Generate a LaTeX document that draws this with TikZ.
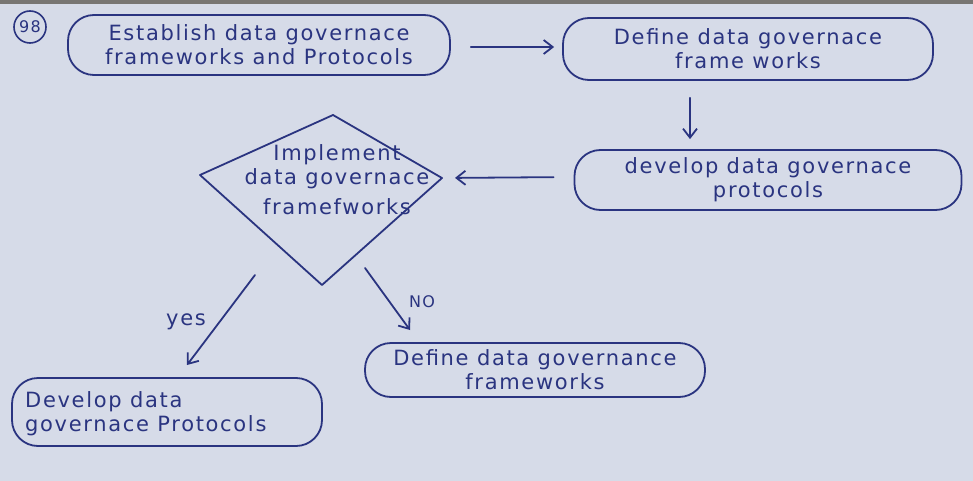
\documentclass[tikz,border=0pt]{standalone}
\usepackage{fontspec}
\setmainfont[LetterSpace=8]{DejaVu Sans}
\usetikzlibrary{arrows.meta,calc}
\definecolor{paper}{RGB}{214,219,232}
\definecolor{ink}{RGB}{42,52,128}
\definecolor{edge}{RGB}{120,118,115}
\begin{document}
\begin{tikzpicture}[x=1pt,y=-1pt,
  ink line/.style={draw=ink,line width=1.8pt,line cap=round,line join=round},
  pill/.style={ink line,rounded corners=26pt,inner sep=0pt,align=center,text=ink,
     font=\fontsize{21}{24}\selectfont},
  lbl/.style={text=ink,font=\fontsize{21}{24}\selectfont,align=center,inner sep=1pt},
  arr/.style={ink line,-{Straight Barb[length=9pt,width=14pt,line width=1.8pt]}}]
\useasboundingbox (0,0) rectangle (973,481);
\fill[paper] (0,0) rectangle (973,481);
\fill[edge] (0,0) rectangle (973,4);
% number
\node[lbl,circle,draw=ink,line width=1.6pt,inner sep=1pt,minimum size=32pt,font=\fontsize{16}{18}\selectfont] (num) at (30,27) {98};
% boxes
\node[pill,minimum width=382pt,minimum height=60pt] (A) at (259,45)
  {Establish data governace\\frameworks and Protocols};
\node[pill,minimum width=370pt,minimum height=62pt] (B) at (748,49)
  {Define data governace\\frame works};
\node[pill,minimum width=387pt,minimum height=60pt] (C) at (768,180)
  {develop data governace\\protocols};
\node[pill,minimum width=310pt,minimum height=68pt] (E) at (167,412) {};
\node[lbl,anchor=west,align=left] (Et) at (24,414) {Develop data\\governace Protocols};
\node[pill,minimum width=340pt,minimum height=54pt] (F) at (535,370)
  {Define data governance\\frameworks};
% diamond
\coordinate (dT) at (333,115);
\coordinate (dL) at (200,175);
\coordinate (dR) at (442,178);
\coordinate (dB) at (322,285);
\draw[ink line] (dT) -- (dR) -- (dB) -- (dL) -- cycle;
\node[lbl] (D) at (337,180) {Implement\\data governace\\[6pt]framefworks};
% connectors
\draw[arr,shorten <=20pt,shorten >=8pt] ($(A.east)+(0,2)$) -- ($(B.west)+(0,-2)$);
\draw[arr,shorten <=17pt,shorten >=10pt] ($(B.south)+(-58,0)$) -- ($(C.north)+(-78,0)$);
\draw[arr,shorten <=20pt,shorten >=13pt] ($(C.west)+(0,-3)$) -- (dR);
\coordinate (ys) at (255,275);
\coordinate (ye) at (187,365);
\coordinate (ns) at (365,268);
\coordinate (ne) at (410,330);
\draw[arr] (ys) -- (ye);
\draw[arr] (ns) -- (ne);
\node[lbl] (yes) at (186,322) {yes};
\node[lbl,font=\fontsize{16}{18}\selectfont] (no) at (422,302) {NO};
\end{tikzpicture}
\end{document}
